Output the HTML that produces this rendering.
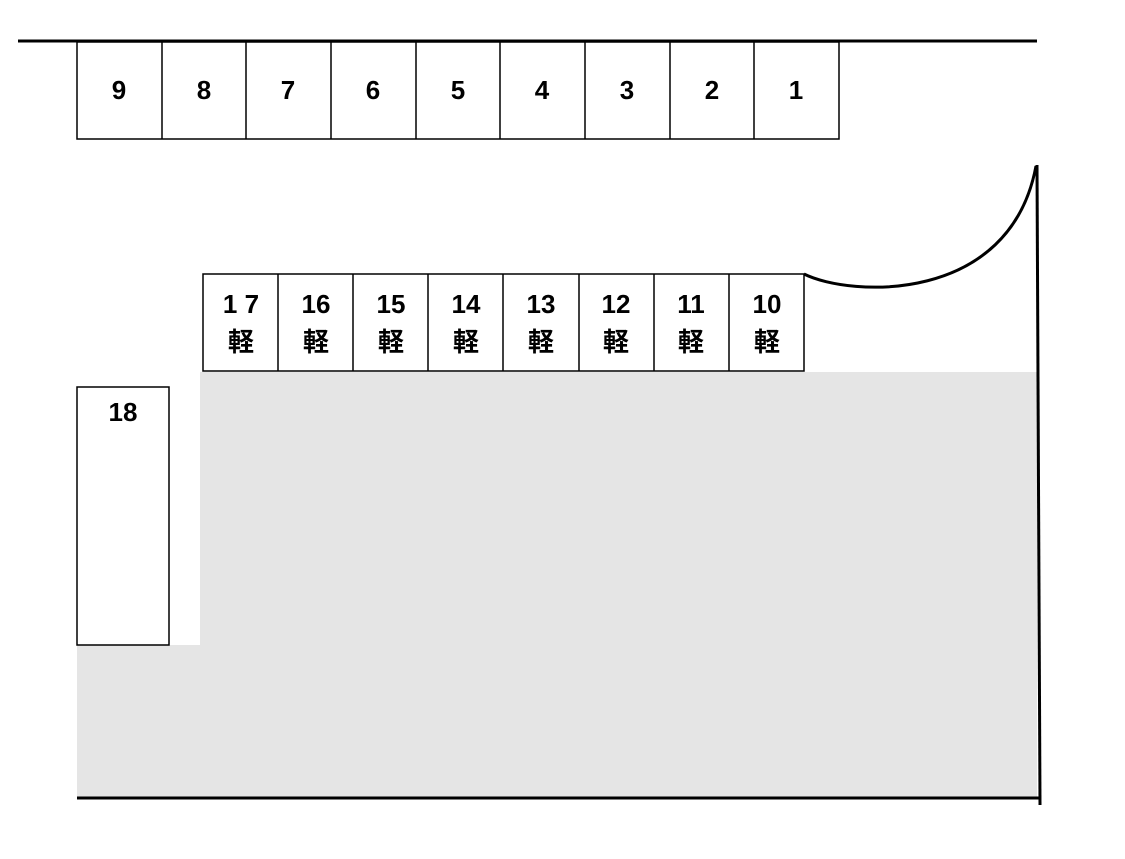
<!DOCTYPE html>
<html><head><meta charset="utf-8"><style>body{margin:0;background:#fff}</style></head><body>
<svg width="1125" height="854" xmlns="http://www.w3.org/2000/svg" font-family="Liberation Sans, Noto Sans CJK JP, sans-serif" font-weight="bold">
<rect x="200" y="372" width="837" height="426" fill="#e5e5e5"/>
<rect x="77" y="645" width="124" height="153" fill="#e5e5e5"/>
<line x1="18" y1="41" x2="1037" y2="41" stroke="#000" stroke-width="3"/>
<line x1="77" y1="798" x2="1040" y2="798" stroke="#000" stroke-width="3"/>
<line x1="1037" y1="165" x2="1040" y2="805" stroke="#000" stroke-width="3"/>
<path d="M804 274 C850 297 1010 305 1036 166" fill="none" stroke="#000" stroke-width="3"/>
<g stroke="#000" stroke-width="1.5" fill="#fff">
<rect x="77" y="42" width="762" height="97"/>
<rect x="203" y="274" width="601" height="97"/>
<rect x="77" y="387" width="92" height="258"/>
</g>
<g stroke="#000" stroke-width="1.5">
<line x1="162" y1="42" x2="162" y2="139"/><line x1="246" y1="42" x2="246" y2="139"/><line x1="331" y1="42" x2="331" y2="139"/><line x1="416" y1="42" x2="416" y2="139"/><line x1="500" y1="42" x2="500" y2="139"/><line x1="585" y1="42" x2="585" y2="139"/><line x1="670" y1="42" x2="670" y2="139"/><line x1="754" y1="42" x2="754" y2="139"/>
<line x1="278" y1="274" x2="278" y2="371"/><line x1="353" y1="274" x2="353" y2="371"/><line x1="428" y1="274" x2="428" y2="371"/><line x1="503" y1="274" x2="503" y2="371"/><line x1="579" y1="274" x2="579" y2="371"/><line x1="654" y1="274" x2="654" y2="371"/><line x1="729" y1="274" x2="729" y2="371"/>
</g>
<g font-size="26" text-anchor="middle">
<text x="119" y="99">9</text><text x="204" y="99">8</text><text x="288" y="99">7</text><text x="373" y="99">6</text><text x="458" y="99">5</text><text x="542" y="99">4</text><text x="627" y="99">3</text><text x="712" y="99">2</text><text x="796" y="99">1</text>
<text x="241" y="313">1 7</text><text x="316" y="313">16</text><text x="391" y="313">15</text><text x="466" y="313">14</text><text x="541" y="313">13</text><text x="616" y="313">12</text><text x="691" y="313">11</text><text x="767" y="313">10</text>
<text x="241" y="351">軽</text><text x="316" y="351">軽</text><text x="391" y="351">軽</text><text x="466" y="351">軽</text><text x="541" y="351">軽</text><text x="616" y="351">軽</text><text x="691" y="351">軽</text><text x="767" y="351">軽</text>
<text x="123" y="421">18</text>
</g>
</svg>
</body></html>
